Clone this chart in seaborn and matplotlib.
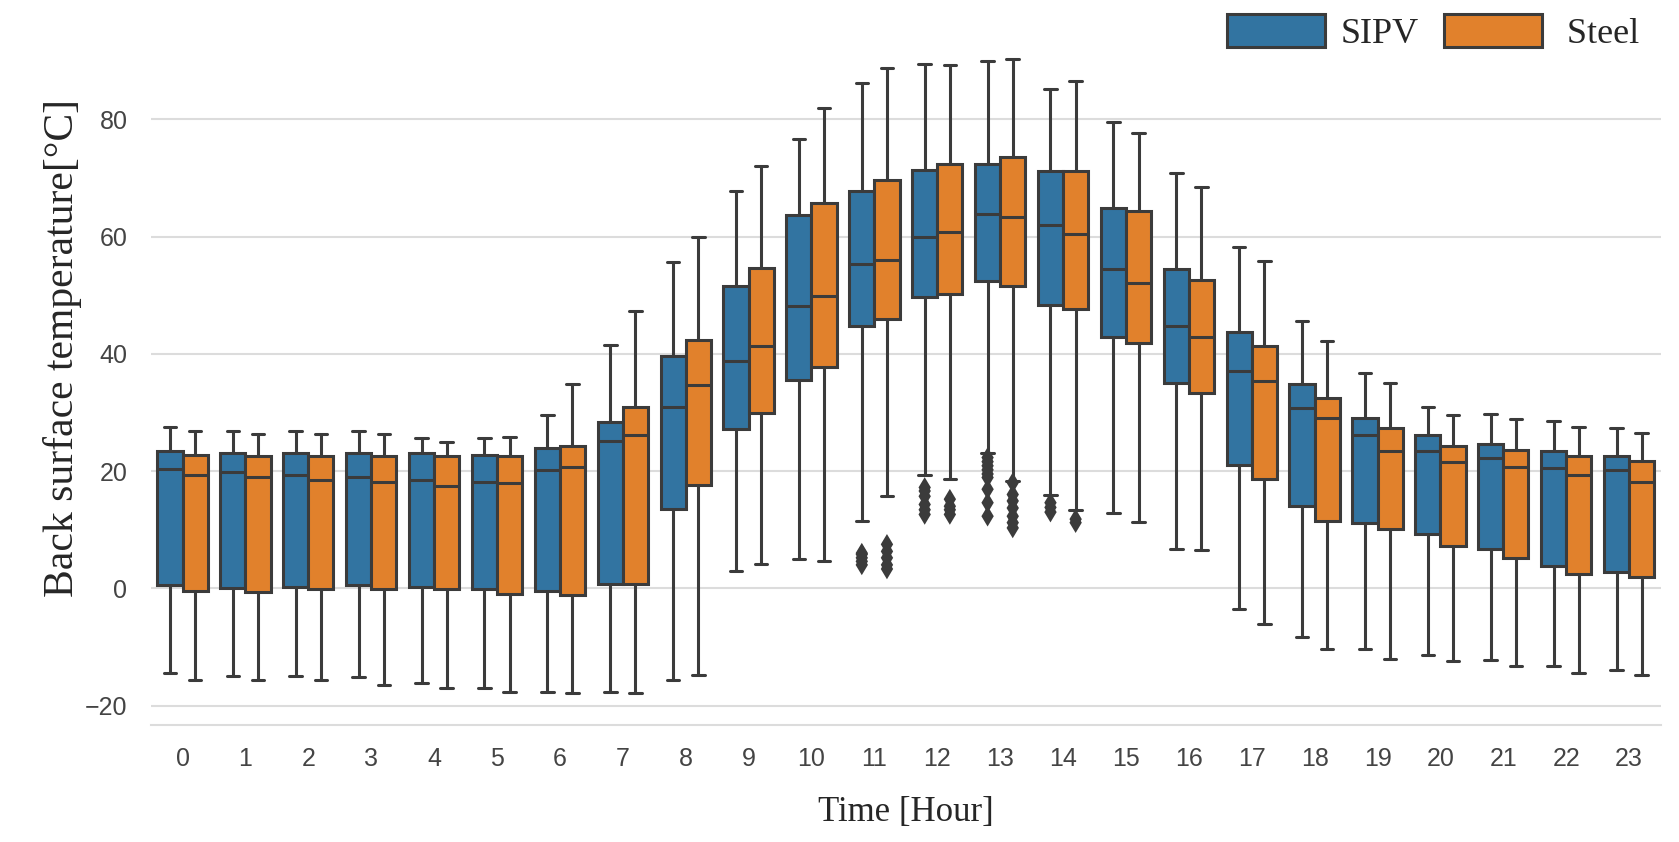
import pandas as pd
import matplotlib.pyplot as plt
import seaborn as sns

hours = list(range(24))
groups = ['SIPV', 'Steel']

# five-number summaries: whisker low, Q1, median, Q3, whisker high
sipv_low = [-14.5, -15.0, -15.0, -15.2, -16.1, -17.0, -17.6, -17.6, -15.6, 2.9, 5.0, 11.5,
            19.3, 23.0, 15.9, 12.8, 6.7, -3.6, -8.3, -10.3, -11.3, -12.2, -13.3, -13.9]
sipv_q1 = [0.6, 0.0, 0.2, 0.6, 0.2, -0.1, -0.5, 0.8, 13.6, 27.2, 35.6, 44.7,
           49.7, 52.4, 48.4, 42.8, 35.0, 21.1, 14.1, 11.2, 9.3, 6.7, 3.8, 2.7]
sipv_med = [20.3, 19.9, 19.4, 19.0, 18.5, 18.2, 20.1, 25.1, 31.0, 38.8, 48.2, 55.3,
            60.0, 63.9, 61.9, 54.4, 44.8, 37.1, 30.7, 26.2, 23.4, 22.2, 20.6, 20.2]
sipv_q3 = [23.4, 23.0, 23.0, 23.0, 23.0, 22.7, 23.9, 28.4, 39.6, 51.5, 63.7, 67.7,
           71.3, 72.3, 71.1, 64.8, 54.4, 43.8, 34.8, 29.1, 26.2, 24.7, 23.4, 22.5]
sipv_high = [27.5, 26.9, 26.9, 26.9, 25.6, 25.6, 29.6, 41.5, 55.7, 67.7, 76.7, 86.2,
             89.5, 89.9, 85.2, 79.6, 70.8, 58.3, 45.6, 36.8, 31.0, 29.8, 28.5, 27.4]

steel_low = [-15.6, -15.6, -15.6, -16.5, -17.0, -17.6, -17.9, -17.9, -14.7, 4.2, 4.7, 15.7,
             18.7, 18.3, 13.4, 11.3, 6.5, -6.1, -10.3, -12.0, -12.4, -13.3, -14.4, -14.7]
steel_q1 = [-0.4, -0.7, -0.1, -0.1, -0.1, -1.0, -1.1, 0.8, 17.6, 29.9, 37.8, 45.9,
            50.2, 51.5, 47.6, 41.9, 33.3, 18.7, 11.5, 10.1, 7.3, 5.2, 2.5, 1.9]
steel_med = [19.3, 19.0, 18.5, 18.2, 17.5, 17.9, 20.7, 26.1, 34.6, 41.4, 49.9, 56.0,
             60.8, 63.3, 60.5, 52.1, 42.8, 35.3, 29.1, 23.5, 21.6, 20.7, 19.3, 18.2]
steel_q3 = [22.7, 22.5, 22.5, 22.5, 22.5, 22.5, 24.2, 31.0, 42.4, 54.7, 65.8, 69.6,
            72.3, 73.6, 71.1, 64.4, 52.6, 41.3, 32.5, 27.4, 24.3, 23.6, 22.5, 21.7]
steel_high = [26.9, 26.4, 26.4, 26.4, 24.9, 25.8, 34.8, 47.3, 60.0, 72.1, 81.9, 88.8,
              89.3, 90.2, 86.5, 77.6, 68.4, 55.9, 42.1, 35.0, 29.6, 28.9, 27.5, 26.5]

# outliers below the lower whiskers around midday
sipv_outliers = {11: [4.0, 4.6, 5.2, 5.8, 6.0],
                 12: [12.6, 13.4, 14.3, 15.7, 16.6, 17.2],
                 13: [12.3, 14.6, 16.9, 18.9, 19.5, 20.2, 20.9, 21.6, 22.3],
                 14: [13.0, 13.8, 14.6]}
steel_outliers = {11: [3.3, 4.0, 5.2, 6.3, 7.5],
                  12: [12.6, 13.4, 14.0, 15.2],
                  13: [10.3, 11.2, 12.3, 13.7, 14.9, 16.0, 18.0],
                  14: [11.2, 11.8]}

rows = []
for name, stats in [('SIPV', (sipv_low, sipv_q1, sipv_med, sipv_q3, sipv_high)),
                    ('Steel', (steel_low, steel_q1, steel_med, steel_q3, steel_high))]:
    for h in hours:
        for s in stats:
            rows.append({'Hour': h, 'Temp': s[h], 'Type': name})
df = pd.DataFrame(rows)

out_rows = []
for name, outs in [('SIPV', sipv_outliers), ('Steel', steel_outliers)]:
    for h, vals in outs.items():
        for v in vals:
            out_rows.append({'Hour': h, 'Temp': v, 'Type': name})
df_out = pd.DataFrame(out_rows)

sns.set_theme(style='whitegrid')
plt.rcParams['font.family'] = ['Liberation Sans', 'DejaVu Sans']

fig, ax = plt.subplots(figsize=(16.79, 8.42), dpi=100)
fig.subplots_adjust(left=0.09, right=0.989, bottom=0.139, top=0.967)

sns.boxplot(data=df, x='Hour', y='Temp', hue='Type', order=hours, hue_order=groups,
            palette=['#1f77b4', '#ff7f0e'], whis=(0, 100), width=0.8,
            linecolor='#3b3b3b', linewidth=2.2, ax=ax)
sns.stripplot(data=df_out, x='Hour', y='Temp', hue='Type', order=hours, hue_order=groups,
              palette={'SIPV': '#3b3b3b', 'Steel': '#3b3b3b'}, dodge=True, jitter=False,
              marker='d', size=10.5, legend=False, ax=ax)

ax.set_xlabel('Time [Hour]', fontsize=25, family='Liberation Serif', labelpad=18)
ax.set_ylabel('Back surface temperature[\u00b0C]', fontsize=30, family='Liberation Serif')
ax.yaxis.set_label_coords(-0.046, 0.54)
ax.tick_params(axis='both', labelsize=18, colors='#444444')
ax.tick_params(axis='x', pad=10)
ax.tick_params(axis='y', pad=11)
ax.set_yticks([-20, 0, 20, 40, 60, 80])
ax.grid(axis='y', color='#dcdcdc', linewidth=1.5)
sns.despine(ax=ax, left=True)
ax.spines['bottom'].set_color('#dcdcdc')
ax.spines['bottom'].set_linewidth(1.5)

handles, labels = ax.get_legend_handles_labels()
labels = ['SIPV', ' Steel']
ax.legend(handles, labels, loc='upper right', bbox_to_anchor=(0.985, 1.0),
          bbox_transform=fig.transFigure, ncol=2, frameon=False,
          prop={'family': 'Liberation Serif', 'size': 26},
          handlelength=2.7, handleheight=1.0, handletextpad=0.45, columnspacing=0.7,
          borderaxespad=0)

fig.savefig('out.png', dpi=100)
